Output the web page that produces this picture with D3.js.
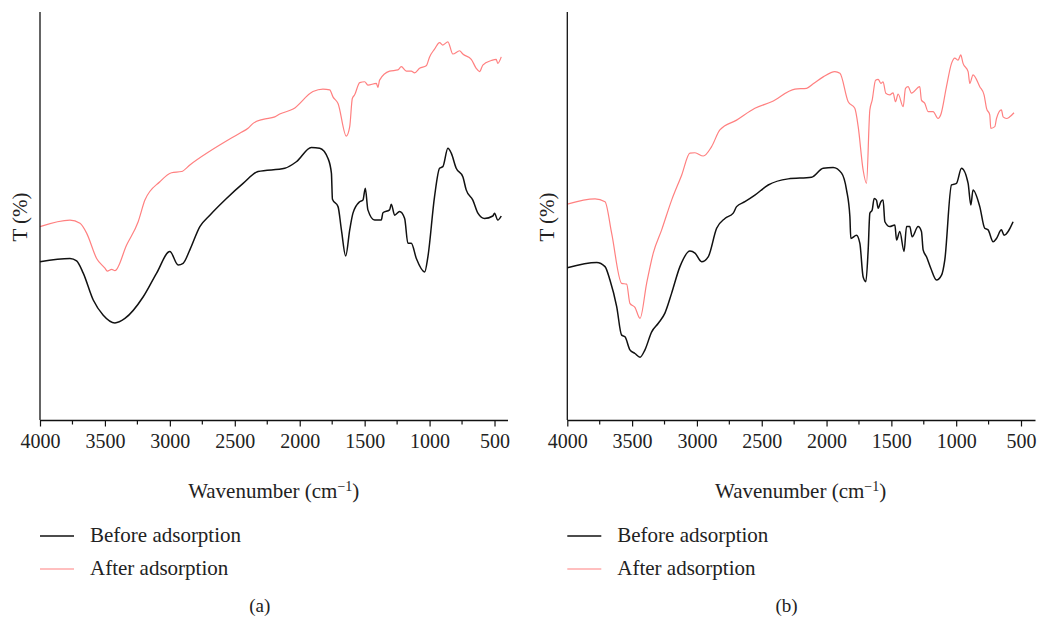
<!DOCTYPE html>
<html>
<head>
<meta charset="utf-8">
<script src="https://cdn.jsdelivr.net/npm/d3@7"></script>
<style>
  html, body { margin: 0; padding: 0; background: #fff; }
  svg { display: block; }
  text { font-family: "Liberation Serif", "DejaVu Serif", serif; fill: #222; }
</style>
</head>
<body>
<svg id="chart" width="1038" height="618"></svg>
<script>
// FTIR spectra: wavenumber (cm-1) and transmittance (arbitrary %)
const panelLabels = ["(a)", "(b)"];
const seriesNames = ["Before adsorption", "After adsorption"];
const xTicksMajor = [4000, 3500, 3000, 2500, 2000, 1500, 1000, 500];
const xTicksMinor = [3750, 3250, 2750, 2250, 1750, 1250, 750];
const xDomainEnd = [400, 392];

const beforeA = [
  [4000,38.8],[3769,39.6],[3718,39.0],[3667,36.0],[3590,29.4],[3513,25.7],[3423,23.8],[3346,24.9],
  [3205,30.2],[3102,36.0],[3000,41.3],[2936,38.0],[2898,38.4],[2846,41.7],[2769,47.4],[2692,50.2],
  [2564,54.3],[2436,58.0],[2321,60.9],[2115,61.7],[2026,63.3],[1910,66.8],[1846,66.6],[1782,64.1],
  [1756,60.5],[1748,54.1],[1705,52.3],[1679,46.6],[1646,40.2],[1615,46.6],[1590,50.7],[1538,53.5],
  [1513,53.9],[1495,56.8],[1475,51.5],[1423,49.0],[1372,49.0],[1359,50.8],[1308,51.5],[1295,52.9],
  [1269,50.2],[1231,51.1],[1192,49.4],[1167,43.3],[1141,43.3],[1102,39.6],[1038,36.3],[1013,40.0],
  [962,54.7],[923,61.7],[898,62.1],[859,66.6],[833,65.4],[795,61.7],[744,59.6],[718,56.4],
  [667,53.9],[628,50.7],[577,49.4],[513,50.0],[500,50.7],[475,49.0],[448,50.0]
];
const afterA = [
  [4000,47.4],[3769,49.0],[3692,48.2],[3641,45.8],[3564,39.6],[3500,37.2],[3482,36.5],[3448,36.9],
  [3423,36.6],[3333,42.9],[3244,48.6],[3192,53.9],[3077,58.4],[2987,60.6],[2910,60.9],[2846,62.5],
  [2462,70.3],[2398,71.5],[2359,72.7],[2282,73.7],[2192,74.3],[2154,75.0],[2051,76.2],[1898,80.5],
  [1821,81.1],[1769,80.9],[1744,79.2],[1705,77.6],[1641,69.6],[1615,71.9],[1595,78.8],[1577,79.7],
  [1538,82.7],[1500,82.9],[1475,82.1],[1410,82.5],[1398,81.5],[1385,83.3],[1308,85.5],[1244,85.8],
  [1218,86.6],[1179,85.5],[1141,85.5],[1115,85.1],[1077,86.2],[1026,86.8],[1000,89.0],[962,90.9],
  [923,92.5],[898,91.9],[859,92.7],[821,89.7],[769,90.5],[744,89.7],[679,88.4],[641,86.2],
  [615,85.4],[590,87.0],[525,88.1],[487,88.4],[475,87.4],[448,89.0]
];
const beforeB = [
  [4000,37.3],[3773,38.6],[3709,37.6],[3671,34.3],[3619,27.8],[3581,20.8],[3555,20.4],[3517,17.2],
  [3478,16.3],[3439,15.4],[3401,17.2],[3349,21.6],[3298,23.7],[3247,26.2],[3195,31.1],[3131,37.6],
  [3054,41.4],[3015,40.9],[2964,38.8],[2913,40.0],[2848,47.0],[2784,49.4],[2720,50.7],[2694,52.3],
  [2630,53.5],[2553,55.1],[2450,57.6],[2296,59.1],[2116,59.5],[2026,61.7],[1949,61.9],[1884,60.5],
  [1846,56.4],[1820,49.8],[1813,44.5],[1769,45.3],[1743,43.3],[1718,35.1],[1697,33.9],[1679,41.7],
  [1666,50.7],[1648,51.5],[1633,54.3],[1615,53.9],[1602,51.9],[1581,53.5],[1564,53.9],[1550,48.6],
  [1512,47.4],[1473,47.8],[1460,44.1],[1435,46.2],[1402,41.3],[1383,47.4],[1358,47.4],[1340,44.9],
  [1294,47.4],[1268,46.2],[1255,41.7],[1229,40.0],[1196,37.2],[1152,34.3],[1113,35.5],[1088,39.2],
  [1036,57.6],[998,58.0],[959,61.7],[908,58.0],[887,52.7],[870,56.4],[818,52.3],[780,47.0],
  [754,46.6],[715,43.7],[689,44.5],[651,46.6],[631,45.3],[561,48.6]
];
const afterB = [
  [4000,52.9],[3786,54.2],[3709,53.5],[3658,45.8],[3581,33.5],[3542,33.3],[3517,28.6],[3478,27.6],
  [3439,24.9],[3388,33.5],[3337,40.9],[3272,46.6],[3195,53.9],[3118,60.0],[3054,65.4],[3015,65.5],
  [2951,64.7],[2887,67.0],[2823,71.1],[2694,73.5],[2553,76.4],[2424,78.0],[2244,81.1],[2154,81.3],
  [2103,82.4],[2026,84.1],[1936,85.4],[1897,85.0],[1833,78.0],[1782,76.4],[1756,71.9],[1718,61.3],
  [1692,58.0],[1666,76.0],[1648,78.4],[1622,83.3],[1602,83.5],[1581,82.5],[1564,82.9],[1543,80.1],
  [1512,79.7],[1487,80.2],[1468,78.0],[1448,79.9],[1409,76.8],[1391,81.3],[1371,81.7],[1345,80.1],
  [1281,81.7],[1268,78.4],[1242,77.6],[1217,75.6],[1178,75.6],[1140,73.9],[1119,74.8],[1075,81.7],
  [1036,87.4],[1011,88.7],[985,88.2],[965,89.5],[947,87.4],[908,85.4],[895,82.5],[870,84.6],
  [818,81.7],[785,79.7],[766,76.4],[741,74.8],[733,71.5],[702,71.9],[689,73.9],[651,76.0],
  [638,74.3],[612,73.9],[587,74.3],[554,75.3]
];

const panels = [
  { left: 40, right: 507.5, series: [beforeA, afterA] },
  { left: 567.3, right: 1035, series: [beforeB, afterB] }
];
const colors = ["#111111", "#ff8080"];
const widths = [1.5, 1.2];
const plotTop = 12, plotBottom = 420;

const svg = d3.select("#chart");

panels.forEach((p, i) => {
  const x = d3.scaleLinear().domain([4000, xDomainEnd[i]]).range([p.left, p.right]);
  const y = d3.scaleLinear().domain([0, 100]).range([plotBottom, plotTop]);
  const g = svg.append("g");
  const mid = (x(4000) + x(400)) / 2;

  // spectra
  const line = d3.line().x(d => x(d[0])).y(d => y(d[1])).curve(d3.curveMonotoneX);
  p.series.forEach((s, k) => {
    g.append("path").datum(s)
      .attr("d", line)
      .attr("fill", "none")
      .attr("stroke", colors[k])
      .attr("stroke-width", widths[k])
      .attr("stroke-linejoin", "round");
  });

  // y axis (no ticks)
  g.append("line")
    .attr("x1", p.left).attr("x2", p.left)
    .attr("y1", plotTop).attr("y2", plotBottom)
    .attr("stroke", "#111").attr("stroke-width", 1.3);

  // x axis with major and minor ticks
  const xAxis = g.append("g").attr("transform", `translate(0,${plotBottom})`)
    .call(d3.axisBottom(x).tickValues(xTicksMajor).tickFormat(d3.format("d"))
      .tickSize(6.5).tickSizeOuter(0).tickPadding(7));
  xAxis.select(".domain").attr("stroke", "#111").attr("stroke-width", 1.3);
  xAxis.selectAll(".tick line").attr("stroke", "#111").attr("stroke-width", 1.2);
  xAxis.selectAll(".tick text")
    .attr("font-family", "'Liberation Serif', serif")
    .attr("font-size", 20).attr("fill", "#222");
  g.append("g").attr("transform", `translate(0,${plotBottom})`)
    .selectAll("line").data(xTicksMinor).join("line")
    .attr("x1", d => x(d)).attr("x2", d => x(d))
    .attr("y1", 0).attr("y2", 4.5)
    .attr("stroke", "#111").attr("stroke-width", 1.2);

  // axis titles
  const xt = g.append("text")
    .attr("x", mid + 0).attr("y", 498)
    .attr("text-anchor", "middle").attr("font-size", 21);
  xt.append("tspan").text("Wavenumber (cm");
  xt.append("tspan").attr("font-size", 14).attr("dy", -7).text("−1");
  xt.append("tspan").attr("dy", 7).text(")");

  g.append("text")
    .attr("transform", `translate(${p.left - 20},${217}) rotate(-90)`)
    .attr("text-anchor", "middle").attr("dominant-baseline", "central")
    .attr("font-size", 21)
    .text("T (%)");

  // legend
  seriesNames.forEach((name, k) => {
    const ly = 536 + k * 33;
    g.append("line")
      .attr("x1", p.left).attr("x2", p.left + 34)
      .attr("y1", ly).attr("y2", ly)
      .attr("stroke", colors[k]).attr("stroke-width", widths[k]);
    g.append("text")
      .attr("x", p.left + 50).attr("y", ly + 6)
      .attr("font-size", 21)
      .text(name);
  });

  // panel label
  g.append("text")
    .attr("x", mid - 14).attr("y", 612)
    .attr("text-anchor", "middle").attr("font-size", 19)
    .text(panelLabels[i]);
});
</script>
</body>
</html>
